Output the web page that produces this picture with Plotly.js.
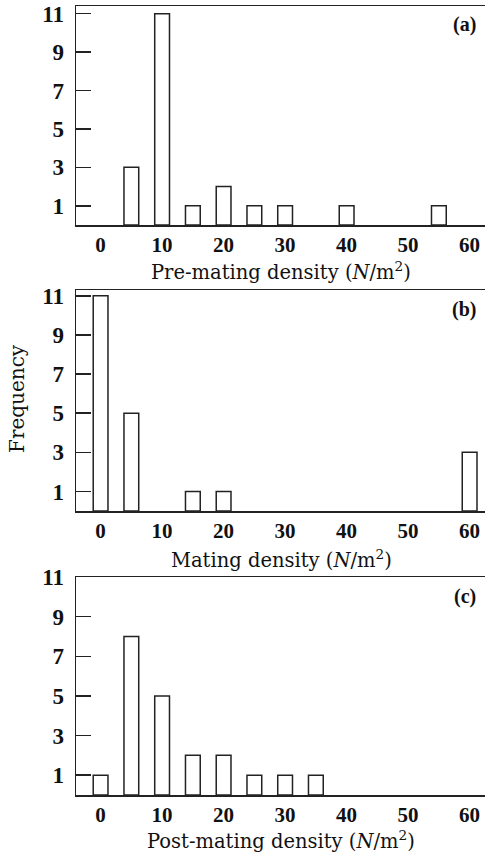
<!DOCTYPE html>
<html>
<head>
<meta charset="utf-8">
<script src="https://cdn.plot.ly/plotly-3.0.1.min.js"></script>
<style>html,body{margin:0;padding:0;background:#fff;}#chart{width:485px;height:853px;}</style>
</head>
<body>
<div id="chart"></div>
<script>
// Density bins (N/m^2)
const preX = [5, 10, 15, 20, 25, 30, 40, 55];
const preFreq = [3, 11, 1, 2, 1, 1, 1, 1];
const matX = [0, 5, 15, 20, 60];
const matFreq = [11, 5, 1, 1, 3];
const postX = [0, 5, 10, 15, 20, 25, 30, 35];
const postFreq = [1, 8, 5, 2, 2, 1, 1, 1];
const xTicks = [0, 10, 20, 30, 40, 50, 60];
const yTicks = [1, 3, 5, 7, 9, 11];
const panelLabels = ['(a)', '(b)', '(c)'];
const xTitles = ['Pre-mating density (<i>N</i>/m<sup>2</sup>)', 'Mating density (<i>N</i>/m<sup>2</sup>)', 'Post-mating density (<i>N</i>/m<sup>2</sup>)'];
const yTitle = 'Frequency';

const serif = 'Liberation Serif, Times New Roman, serif';
const wideSerif = 'DejaVu Serif, serif';
const lineCol = '#222';
function bar(x, y, xa, ya) {
  return {type: 'bar', x: x, y: y, xaxis: xa, yaxis: ya, width: 2.4,
    marker: {color: '#ffffff', line: {color: lineCol, width: 1.5}}, hoverinfo: 'skip', showlegend: false};
}
const data = [bar(preX, preFreq, 'x', 'y'), bar(matX, matFreq, 'x2', 'y2'), bar(postX, postFreq, 'x3', 'y3')];

const W = 485, H = 853;
const panels = [[6, 225, 11.4], [290, 511, 11.3], [577, 795, 11.0]];
const titleY = [271, 559, 840];
function xaxis(i, anchor) {
  return {domain: [76 / W, 1], anchor: anchor, range: [-4, 62.5], tickvals: xTicks, ticks: '',
    showgrid: false, zeroline: false, showline: true, linecolor: lineCol, linewidth: 1.5, mirror: true,
    tickfont: {family: serif, size: 21, color: '#111', weight: 'bold'}, ticklabelstandoff: 0};
}
function yaxis(i, anchor) {
  const p = panels[i];
  return {domain: [1 - p[1] / H, 1 - p[0] / H], anchor: anchor, range: [0, p[2]], tickvals: yTicks,
    ticks: 'inside', ticklen: 15, tickwidth: 1.5, tickcolor: lineCol,
    showgrid: false, zeroline: false, showline: true, linecolor: lineCol, linewidth: 1.5,
    tickfont: {family: serif, size: 23, color: '#111', weight: 'bold'}, ticklabelstandoff: 6};
}
const annotations = panelLabels.map((t, i) => ({
  text: t, xref: 'paper', yref: 'paper', x: 478 / W, y: 1 - (panels[i][0] + 19) / H,
  xanchor: 'right', yanchor: 'middle', showarrow: false,
  font: {family: serif, size: 20, color: '#111', weight: 'bold'}
}));
xTitles.forEach((t, i) => annotations.push({
  text: t, xref: 'paper', yref: 'paper', x: 281 / W, y: 1 - titleY[i] / H,
  xanchor: 'center', yanchor: 'middle', showarrow: false,
  font: {family: wideSerif, size: 19.5, color: '#111'}
}));
annotations.push({text: yTitle, xref: 'paper', yref: 'paper', x: 17 / W, y: 1 - 399 / H,
  xanchor: 'center', yanchor: 'middle', textangle: -90, showarrow: false,
  font: {family: wideSerif, size: 20, color: '#111'}});

const layout = {
  width: W, height: H, margin: {l: 0, r: 0, t: 0, b: 0},
  paper_bgcolor: '#fff', plot_bgcolor: '#fff', bargap: 0,
  xaxis: xaxis(0, 'y'), yaxis: yaxis(0, 'x'),
  xaxis2: xaxis(1, 'y2'), yaxis2: yaxis(1, 'x2'),
  xaxis3: xaxis(2, 'y3'), yaxis3: yaxis(2, 'x3'),
  annotations: annotations
};
Plotly.newPlot('chart', data, layout, {displayModeBar: false, staticPlot: true});
</script>
</body>
</html>
